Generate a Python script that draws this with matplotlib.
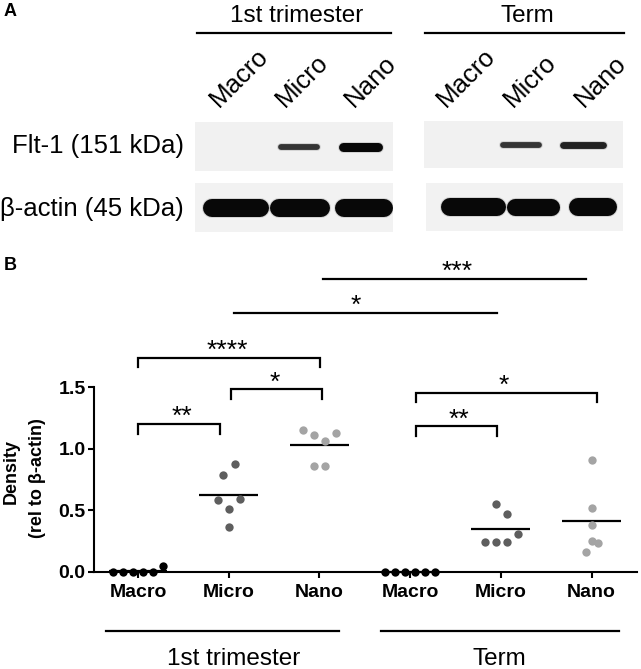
import matplotlib
matplotlib.use('Agg')
import matplotlib.pyplot as plt
import numpy as np

plt.rcParams['font.family'] = ['Liberation Sans', 'DejaVu Sans']

W, H = 641, 669

# ------------------------------------------------------------------ data
groups = ['Macro', 'Micro', 'Nano']
periods = ['1st trimester', 'Term']
yticks = [0.0, 0.5, 1.0, 1.5]

# Density (rel to beta-actin), one point per sample
macro_1st = [0.0, 0.0, 0.0, 0.0, 0.0, 0.045]
micro_1st = [0.88, 0.79, 0.595, 0.585, 0.51, 0.365]
nano_1st = [1.15, 1.11, 1.06, 1.13, 0.86, 0.86]
macro_term = [0.0, 0.0, 0.0, 0.0, 0.0, 0.0]
micro_term = [0.55, 0.47, 0.31, 0.245, 0.245, 0.245]
nano_term = [0.91, 0.52, 0.38, 0.25, 0.235, 0.16]

# significance annotations: (from group, to group, label)
comparisons = [(0, 1, '**'), (1, 2, '*'), (0, 2, '****'),
               (1, 4, '*'), (2, 5, '***'), (3, 4, '**'), (3, 5, '*')]

# western blot relative band intensities (lanes Macro, Micro, Nano)
flt1_1st = [0.0, 0.55, 1.0]
flt1_term = [0.0, 0.55, 0.7]
actin_1st = [1.0, 1.0, 1.0]
actin_term = [1.0, 0.95, 1.0]

# ------------------------------------------------------------------ layout
# horizontal swarm spread of points (pixels) as they appear in the figure
swarm_px = [[-25, -15, -5, 5, 15, 25],
            [6, -6, 11, -11, 0, 0],
            [-16.5, -5.5, 5.5, 16.5, -5.5, 5.5],
            [-25, -15, -5, 5, 15, 25],
            [-5, 6, 17, -16, -5, 6],
            [0, 0, 0, 0, 6, -6]]
px_per_cat = 90.7
dot_colors = ['#000000', '#5e5e5e', '#a4a4a4'] * 2
# bracket geometry: (x_left, x_right, y, has_legs, text_x)
bracket_geom = [(0.0, 0.90, 1.20, True, 0.48),
                (1.02, 2.025, 1.483, True, 1.51),
                (0.0, 2.01, 1.739, True, 0.99),
                (1.06, 3.955, 2.108, False, 2.40),
                (2.04, 4.936, 2.383, False, 3.517),
                (3.065, 3.955, 1.182, True, 3.54),
                (3.065, 5.064, 1.454, True, 4.035)]


def fx(x):
    return x / W


def fy(y):
    return 1 - y / H


fig = plt.figure(figsize=(W / 100, H / 100), dpi=100)

# ================================================================ panel A
fig.text(fx(10), fy(12), 'A', fontsize=13, fontweight='bold', ha='center', va='center')

for label, cx, (lx0, lx1) in [(periods[0], 296.5, (197, 391)), (periods[1], 527, (425, 624))]:
    fig.text(fx(cx), fy(22), label, fontsize=17.5, ha='center', va='baseline')
    fig.add_artist(plt.Line2D([fx(lx0), fx(lx1)], [fy(33), fy(33)], color='black', lw=1.6))

# lane labels
lane_label_px = [[219, 285, 354], [446, 513, 584]]
for row in lane_label_px:
    for g, x in zip(groups, row):
        fig.text(fx(x), fy(107.5), g, fontsize=18.5, rotation=45, rotation_mode='anchor',
                 ha='left', va='baseline')

fig.text(fx(184), fy(146), 'Flt-1 (151 kDa)', fontsize=18.5, ha='right', va='center')
fig.text(fx(184), fy(209), 'β-actin (45 kDa)', fontsize=18.5, ha='right', va='center')


def blot(box, lane1_px, lane_step_px, intens, thick_fn, widths_px, bg):
    bx0, by0, bx1, by1 = box
    a = fig.add_axes([fx(bx0), fy(by1), (bx1 - bx0) / W, (by1 - by0) / H])
    a.set_xlim(1 + (bx0 - lane1_px) / lane_step_px, 1 + (bx1 - lane1_px) / lane_step_px)
    a.set_ylim(0, 1)
    a.set_facecolor(bg)
    a.set_xticks([])
    a.set_yticks([])
    for s in a.spines.values():
        s.set_visible(False)
    for i, v in enumerate(intens):
        if v <= 0:
            continue
        t = thick_fn(v)
        half = (widths_px[i] / 2 - t / 2) / lane_step_px
        xs = [i + 1 - half, i + 1 + half]
        a.plot(xs, [0.5, 0.5], color='black', lw=(t + 2) * 0.72, alpha=0.12,
               solid_capstyle='round')
        a.plot(xs, [0.5, 0.5], color='#080808', lw=t * 0.72, alpha=min(1, 0.45 + 0.6 * v),
               solid_capstyle='round')
    return a


blot((195, 122, 393, 171), 238, 61, flt1_1st, lambda v: 2 + 7 * v, [42, 42, 44], '#f1f1f1')
blot((424, 121, 623, 168), 459, 62, flt1_term, lambda v: 2 + 7 * v, [42, 42, 47], '#f1f1f1')
blot((195, 183, 393, 232), 236, 64, actin_1st, lambda v: 18 * v, [66, 60, 58], '#f2f2f2')
blot((426, 183, 623, 231), 473, 60, actin_term, lambda v: 18 * v, [65, 53, 48], '#f2f2f2')

# ================================================================ panel B
fig.text(fx(10), fy(266), 'B', fontsize=13, fontweight='bold', ha='center', va='center')

x0, x1 = 94, 636.7
y0, y1 = 571.7, 387.3
ax = fig.add_axes([fx(x0), fy(y0), (x1 - x0) / W, (y0 - y1) / H])
ax.set_xlim((x0 - 138) / px_per_cat, (x1 - 138) / px_per_cat)
ax.set_ylim(0, 1.5)
ax.patch.set_alpha(0)

series = [macro_1st, micro_1st, nano_1st, macro_term, micro_term, nano_term]
for pos, (vals, offs, col) in enumerate(zip(series, swarm_px, dot_colors)):
    xs = pos + np.array(offs) / px_per_cat
    m = float(np.mean(vals))
    ax.plot([pos - 0.325, pos + 0.325], [m, m], color='black', lw=1.6, zorder=2,
            clip_on=False, solid_capstyle='butt')
    ax.scatter(xs, vals, s=36, color=col, linewidths=0, zorder=3, clip_on=False)

for (g1, g2, lab), (xl, xr, yb, legs, tx) in zip(comparisons, bracket_geom):
    if legs:
        ax.plot([xl, xl, xr, xr], [yb - 0.077, yb, yb, yb - 0.077], color='black', lw=1.6,
                clip_on=False, solid_joinstyle='miter')
    else:
        ax.plot([xl, xr], [yb, yb], color='black', lw=1.6, clip_on=False)
    ax.annotate(lab, (tx, yb), xytext=(0, 0), textcoords='offset points', ha='center',
                va='baseline', fontsize=19, annotation_clip=False)

ax.spines['top'].set_visible(False)
ax.spines['right'].set_visible(False)
ax.spines['left'].set_linewidth(1.5)
ax.spines['bottom'].set_linewidth(1.5)
ax.set_yticks(yticks)
ax.set_yticklabels([f'{v:.1f}' for v in yticks], fontsize=14, fontweight='bold')
ax.set_xticks(range(6))
ax.set_xticklabels(groups * 2, fontsize=14, fontweight='bold')
ax.tick_params(axis='both', length=4, width=1.5, color='black')
ax.tick_params(axis='y', pad=2)
ax.tick_params(axis='x', pad=5)

fig.text(fx(11), fy(472), 'Density', rotation=90, ha='center', va='center', fontsize=13,
         fontweight='bold')
fig.text(fx(37), fy(478), '(rel to β-actin)', rotation=90, ha='center', va='center',
         fontsize=13, fontweight='bold')

# period bars under the axis
tr = ax.get_xaxis_transform()
ybar = (y0 - 630.7) / (y0 - y1)
ytxt = (y0 - 665) / (y0 - y1)
for lab, (lx, rx), tx in [(periods[0], (-0.353, 2.216), 1.058), (periods[1], (2.679, 5.307), 3.98)]:
    ax.plot([lx, rx], [ybar, ybar], color='black', lw=1.6, transform=tr, clip_on=False)
    ax.text(tx, ytxt, lab, transform=tr, ha='center', va='baseline', fontsize=17.5)

fig.savefig('out.png', dpi=100)
